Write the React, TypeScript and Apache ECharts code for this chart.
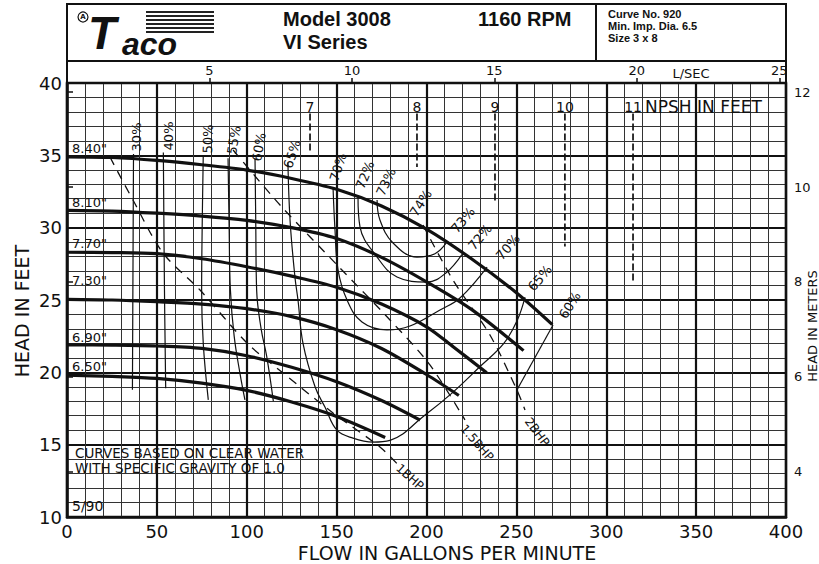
import React, { useEffect, useRef } from "react";
import * as echarts from "echarts";

// ---------- data ----------
const FT_PER_M = 3.28084;
const GPM_PER_LS = 15.8503;

// head curves [gpm, ft] per impeller diameter
const impellerLabels = ['8.40"', '8.10"', '7.70"', '7.30"', '6.90"', '6.50"'];
const head840 = [[0, 34.9], [25, 34.85], [50, 34.65], [75, 34.35], [100, 33.98], [125, 33.4], [150, 32.65], [175, 31.5], [200, 29.9], [225, 27.85], [250, 25.5], [270, 23.3]];
const head810 = [[0, 31.2], [25, 31.15], [50, 31.0], [75, 30.8], [100, 30.5], [125, 30.0], [150, 29.25], [175, 27.95], [200, 26.26], [225, 24.35], [254, 21.5]];
const head770 = [[0, 28.3], [25, 28.28], [50, 28.2], [75, 27.85], [100, 27.3], [125, 26.65], [150, 25.88], [175, 24.72], [200, 23.15], [215, 21.75], [233.5, 19.97]];
const head730 = [[0, 25.05], [25, 25.0], [50, 24.88], [75, 24.72], [100, 24.4], [125, 23.85], [150, 22.95], [175, 21.65], [200, 19.85], [218, 18.4]];
const head690 = [[0, 21.9], [25, 21.88], [50, 21.82], [75, 21.65], [100, 21.15], [125, 20.35], [150, 19.35], [175, 18.05], [196.4, 16.7]];
const head650 = [[0, 19.8], [25, 19.72], [50, 19.58], [75, 19.25], [100, 18.75], [125, 17.95], [150, 16.95], [177, 15.5]];
const headCurves = [head840, head810, head770, head730, head690, head650];
const impellerLabelAt = [[2.8, 35.5], [2.8, 31.77], [2.8, 28.94], [2.8, 26.38], [2.8, 22.44], [2.8, 20.37]];

// efficiency curves [gpm, ft]
const eff30 = [[37.0, 35.1], [36.7, 27.0], [36.4, 18.8]];
const eff40 = [[53.6, 35.2], [54.2, 26.0], [54.9, 18.9]];
const eff50 = [[75.8, 35.0], [75.2, 30.0], [74.9, 25.7], [75.8, 22.0], [78.6, 18.1]];
const eff55 = [[89.6, 34.8], [90.2, 30.0], [90.9, 25.7], [93.0, 22.5], [96.2, 19.95], [99.0, 18.1]];
const eff60 = [[104.6, 34.8], [105.0, 30.5], [105.5, 25.7], [108.0, 23.0], [111.1, 21.1], [114.8, 18.0]];
const eff65 = [[122.9, 34.5], [124.1, 30.5], [126.8, 26.6], [128.5, 25.0], [131.3, 22.0], [138.0, 19.0], [143.5, 17.6], [150.2, 16.0], [159.1, 15.45], [170.2, 15.18], [179.7, 15.3], [199.2, 17.05], [214.5, 18.6], [229.8, 20.4], [243.0, 22.0], [250.5, 23.6], [254.8, 25.2]];
const eff70 = [[148.0, 32.8], [149.1, 29.84], [150.8, 27.07], [155.8, 25.0], [164.1, 23.48], [178.0, 22.93], [190.8, 23.2], [207.5, 24.31], [218.6, 25.14], [233.7, 27.28]];
const eff72 = [[161.9, 32.12], [163.0, 30.05], [172.5, 27.97], [183.6, 26.59], [200.3, 26.24], [210.8, 26.87], [220.3, 28.25]];
const eff73 = [[172.5, 31.91], [174.1, 30.53], [181.4, 28.94], [194.7, 27.97], [204.7, 28.2], [211.4, 29.02]];
const eff60Right = [[250.3, 18.78], [270.4, 23.27]];
const effCurves = [eff30, eff40, eff50, eff55, eff60, eff65, eff70, eff72, eff73];

const effLeftLabels = ["30%", "40%", "50%", "55%", "60%", "65%", "70%", "72%", "73%", "74%"];
const effLeftLabelAt = [[38.9, 36.27], [56.2, 36.34], [78.4, 36.13], [92.9, 36.06], [106.8, 35.58], [125.2, 35.09], [150.8, 34.19], [165.8, 33.64], [177.5, 33.16], [196.9, 31.71]];
const effLeftRot = [90, 90, 88, 80, 80, 72, 72, 68, 65, 57];
const effRightLabels = ["73%", "72%", "70%", "65%", "60%"];
const effRightLabelAt = [[220.3, 30.53], [229.8, 29.35], [245.3, 28.66], [263.1, 26.52], [279.8, 24.65]];
const effRightRot = [50, 50, 50, 50, 58];

// brake horsepower lines
const bhp1 = [[23.9, 34.88], [36.7, 31.91], [53.4, 28.25], [74.0, 25.69], [100.1, 22.03], [120.2, 19.95], [148.0, 17.19], [174.1, 14.84], [185.3, 13.46]];
const bhp15 = [[92.4, 35.37], [118.5, 31.57], [151.9, 27.21], [179.7, 23.62], [201.9, 20.51], [221.4, 16.71]];
const bhp2 = [[198.1, 30.18], [214.7, 26.38], [235.3, 22.58], [250.3, 18.78], [254.8, 17.4]];
const bhpCurves = [bhp1, bhp15, bhp2];
const bhpLabels = ["1BHP", "1.5BHP", "2BHP"];
const bhpLabelAt = [[190.8, 12.76], [228.1, 15.12], [261.5, 15.88]];
const bhpRot = [-42, -49, -53];

// NPSH (feet) marks
const npshValues = [7, 8, 9, 10, 11];
const npshFlow = [135.2, 194.7, 238.1, 277.0, 314.9];
const npshBottom = [35.2, 34.2, 31.7, 28.7, 26.2];
const npshTop = 37.9;
const npshLabelHead = 38.35;
const npshTitleAt = [321.6, 38.35];

const meterTicks = [4, 6, 8, 10, 12];

const FONT = "DejaVu Sans";
const INK = "#111";

function txt(text: string, x: number, y: number, o: any = {}) {
  return {
    type: "text",
    x,
    y,
    rotation: ((o.rot || 0) * Math.PI) / 180,
    silent: true,
    z: 100,
    style: {
      text,
      fill: INK,
      fontSize: o.size || 13,
      fontFamily: o.family || FONT,
      fontWeight: o.weight || "normal",
      fontStyle: o.fstyle || "normal",
      align: o.align || "center",
      verticalAlign: o.valign || "middle",
      lineHeight: o.lh,
    },
  };
}

export default function App() {
  const ref = useRef<HTMLDivElement>(null);

  useEffect(() => {
    const chart = echarts.init(ref.current!, null, { renderer: "svg" });

    const lineS = (data: number[][], width: number, type: any = "solid", smooth: any = 0.35) => ({
      type: "line",
      data,
      symbol: "none",
      showSymbol: false,
      smooth,
      silent: true,
      lineStyle: { color: INK, width, type },
      xAxisIndex: 0,
      yAxisIndex: 0,
    });

    const series: any[] = [];
    headCurves.forEach((c) => series.push(lineS(c, 3.2, "solid", 0.3)));
    effCurves.forEach((c) => series.push(lineS(c, 1.2, "solid", 0.4)));
    series.push(lineS(eff60Right, 1.2, "solid", false));
    bhpCurves.forEach((c) => series.push(lineS(c, 1.3, [9, 7], 0.3)));
    npshFlow.forEach((f, i) =>
      series.push(lineS([[f, npshTop], [f, npshBottom[i]]], 1.7, [7, 3], false))
    );

    const option: any = {
      animation: false,
      backgroundColor: "#fff",
      grid: { left: 67, top: 83, width: 719, height: 434, show: true, borderColor: INK, borderWidth: 2.5 },
      xAxis: [
        {
          type: "value", min: 0, max: 400, interval: 50, position: "bottom",
          axisLine: { show: true, lineStyle: { color: INK, width: 2.5 } },
          axisTick: { show: false },
          axisLabel: { color: INK, fontSize: 18, fontFamily: FONT, margin: 5 },
          splitLine: { show: true, lineStyle: { color: INK, width: 2.2 } },
          minorTick: { show: false, splitNumber: 5 },
          minorSplitLine: { show: true, lineStyle: { color: "#333", width: 1 } },
        },
        {
          type: "value", min: 0, max: 400 / GPM_PER_LS, interval: 5, position: "top",
          axisLine: { show: false },
          axisTick: { show: true, length: 5, lineStyle: { color: INK, width: 1.5 } },
          axisLabel: {
            color: INK, fontSize: 13, fontFamily: FONT, margin: 6,
            formatter: (v: number) => (v > 0 && Math.abs(v - Math.round(v / 5) * 5) < 1e-6 ? String(v) : ""),
          },
          splitLine: { show: false },
        },
      ],
      yAxis: [
        {
          type: "value", min: 10, max: 40, interval: 5, position: "left",
          axisLine: { show: true, lineStyle: { color: INK, width: 2.5 } },
          axisTick: { show: false },
          axisLabel: { color: INK, fontSize: 18, fontFamily: FONT, margin: 5 },
          splitLine: { show: true, lineStyle: { color: INK, width: 2.2 } },
          minorTick: { show: false, splitNumber: 5 },
          minorSplitLine: { show: true, lineStyle: { color: "#333", width: 1 } },
        },
        {
          type: "value", min: 10 / FT_PER_M, max: 40 / FT_PER_M, position: "right",
          axisLine: { show: false },
          axisTick: { show: true, length: 6, customValues: meterTicks, lineStyle: { color: INK, width: 1.5 } },
          axisLabel: { color: INK, fontSize: 13, fontFamily: FONT, margin: 8, customValues: meterTicks },
          splitLine: { show: false },
        },
      ],
      series,
    };
    chart.setOption(option);

    const P = (p: number[]) => chart.convertToPixel({ xAxisIndex: 0, yAxisIndex: 0 }, p) as number[];

    const g: any[] = [];
    // header frame
    g.push({ type: "rect", silent: true, shape: { x: 67, y: 4, width: 719, height: 79 }, style: { fill: "none", stroke: INK, lineWidth: 2 } });
    g.push({ type: "line", silent: true, shape: { x1: 67, y1: 61, x2: 786, y2: 61 }, style: { stroke: INK, lineWidth: 2.2 } });
    g.push({ type: "line", silent: true, shape: { x1: 596, y1: 4, x2: 596, y2: 61 }, style: { stroke: INK, lineWidth: 2 } });
    // logo
    for (let i = 0; i < 6; i++) {
      g.push({ type: "line", silent: true, shape: { x1: 146, y1: 12 + i * 4, x2: 214, y2: 12 + i * 4 }, style: { stroke: "#222", lineWidth: 2 } });
    }
    g.push({ type: "circle", silent: true, shape: { cx: 83, cy: 17, r: 5 }, style: { fill: "#fff", stroke: INK, lineWidth: 1.2 } });
    g.push(txt("A", 83, 17, { size: 7, weight: "bold" }));
    g.push(txt("T", 88, 33, { size: 46, weight: 900, fstyle: "italic", align: "left", family: "Liberation Sans", lh: 48 }));
    g.push(txt("aco", 122, 44, { size: 32, weight: 900, fstyle: "italic", align: "left", family: "Liberation Sans", lh: 32 }));
    // header text
    g.push(txt("Model 3008", 283, 19, { size: 20, weight: "bold", align: "left", family: "Liberation Sans" }));
    g.push(txt("VI Series", 283, 42, { size: 20, weight: "bold", align: "left", family: "Liberation Sans" }));
    g.push(txt("1160 RPM", 478, 19, { size: 20, weight: "bold", align: "left", family: "Liberation Sans" }));
    g.push(txt("Curve No. 920", 608, 14, { size: 11, weight: "bold", align: "left", family: "Liberation Sans", lh: 11 }));
    g.push(txt("Min. Imp. Dia. 6.5", 608, 26, { size: 11, weight: "bold", align: "left", family: "Liberation Sans", lh: 11 }));
    g.push(txt("Size 3 x 8", 608, 38, { size: 11, weight: "bold", align: "left", family: "Liberation Sans", lh: 11 }));
    g.push(txt("L/SEC", 691, 73, { size: 13 }));
    // axis titles
    g.push(txt("HEAD IN FEET", 22, 311, { size: 19, rot: 90 }));
    g.push(txt("FLOW IN GALLONS PER MINUTE", 447, 553, { size: 19 }));
    g.push(txt("HEAD IN METERS", 812, 326, { size: 13, rot: 90 }));
    // notes
    g.push(txt("CURVES BASED ON CLEAR WATER", 75, 453, { size: 13.5, align: "left" }));
    g.push(txt("WITH SPECIFIC GRAVITY OF 1.0", 75, 468, { size: 13.5, align: "left" }));
    g.push(txt("5/90", 72, 506, { size: 14, align: "left" }));
    // impeller labels
    impellerLabels.forEach((t, i) => {
      const p = P(impellerLabelAt[i]);
      g.push(txt(t, p[0], p[1], { size: 13, align: "left" }));
    });
    // efficiency labels
    effLeftLabels.forEach((t, i) => {
      const p = P(effLeftLabelAt[i]);
      g.push(txt(t, p[0], p[1], { size: 13, rot: effLeftRot[i] }));
    });
    effRightLabels.forEach((t, i) => {
      const p = P(effRightLabelAt[i]);
      g.push(txt(t, p[0], p[1], { size: 13, rot: effRightRot[i] }));
    });
    // bhp labels
    bhpLabels.forEach((t, i) => {
      const p = P(bhpLabelAt[i]);
      g.push(txt(t, p[0], p[1], { size: 12, rot: bhpRot[i] }));
    });
    // npsh labels
    npshValues.forEach((v, i) => {
      const p = P([npshFlow[i], npshLabelHead]);
      g.push(txt(String(v), p[0], p[1], { size: 14 }));
    });
    const np = P(npshTitleAt);
    g.push(txt("NPSH IN FEET", np[0], np[1], { size: 17, align: "left" }));

    chart.setOption({ graphic: g });

    return () => chart.dispose();
  }, []);

  return (
    <div
      ref={ref}
      style={{ position: "fixed", left: 0, top: 0, width: 819, height: 564, background: "#fff" }}
    />
  );
}
